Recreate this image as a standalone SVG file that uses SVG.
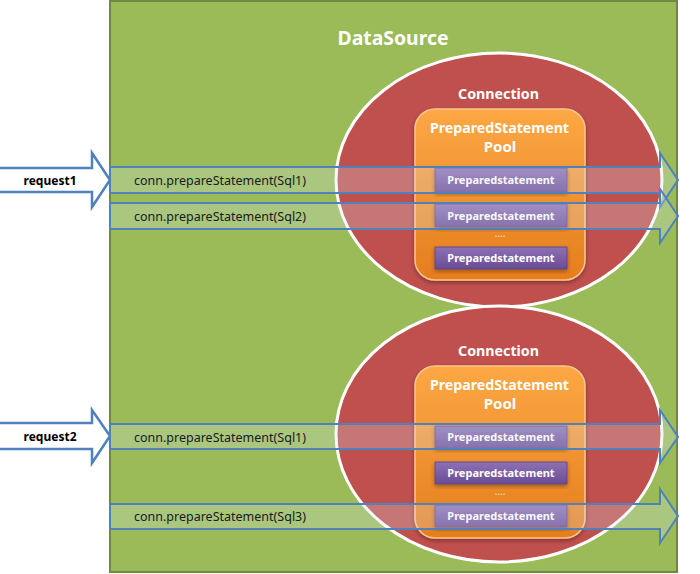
<svg xmlns="http://www.w3.org/2000/svg" width="700" height="574" viewBox="0 0 700 574">
<defs>
<linearGradient id="gOrange" x1="0" y1="0" x2="0" y2="1">
<stop offset="0" stop-color="#fca845"/>
<stop offset="1" stop-color="#e57d1e"/>
</linearGradient>
<linearGradient id="gPurple" x1="0" y1="0" x2="0" y2="1">
<stop offset="0" stop-color="#8d71b4"/>
<stop offset="1" stop-color="#6a4c96"/>
</linearGradient>
<filter id="shadow" x="-10%" y="-10%" width="120%" height="130%">
<feDropShadow dx="0" dy="2" stdDeviation="2" flood-color="#000" flood-opacity="0.35"/>
</filter>
</defs>
<style>
.ds{fill:#9bbb59;stroke:#71893f;stroke-width:2}
.conn{fill:#c0504d;stroke:#ffffff;stroke-width:3}
.pool{fill:url(#gOrange);stroke:#fbc58e;stroke-width:1.5;filter:url(#shadow)}
.ps{fill:url(#gPurple);stroke:#5c4386;stroke-width:0.8;filter:url(#shadow)}
.t{font-family:"Noto Sans","Open Sans","DejaVu Sans",sans-serif}
.w{fill:#ffffff;font-weight:bold}
.pst{font-size:11px;text-anchor:middle}
.arr{fill:#dce6f2;fill-opacity:0.25;stroke:#4f81bd;stroke-width:2}
.req{fill:#ffffff;stroke:#4f81bd;stroke-width:2.5}
.ct{font-size:13px;fill:#1a1a1a}
.rt{font-size:13px;font-weight:bold;fill:#000;text-anchor:middle}
.dots{font-size:10px;fill:#f7e0c0;text-anchor:middle}
</style>
<g id="datasource">
<rect class="ds" x="110" y="1" width="567" height="571"/>
<text class="t w" x="393" y="45" font-size="19" text-anchor="middle" textLength="111" lengthAdjust="spacingAndGlyphs">DataSource</text>
</g>
<g id="connection1">
<ellipse class="conn" cx="499" cy="180" rx="163" ry="127"/>
<text class="t w" x="498.5" y="99" font-size="14.5" text-anchor="middle" textLength="81" lengthAdjust="spacingAndGlyphs">Connection</text>
</g>
<g id="pool1">
<rect class="pool" x="415" y="109" width="170" height="171" rx="20"/>
<text class="t w" x="499.5" y="133" font-size="15" text-anchor="middle" textLength="139" lengthAdjust="spacingAndGlyphs">PreparedStatement</text>
<text class="t w" x="500" y="152" font-size="15" text-anchor="middle">Pool</text>
</g>
<g id="ps1a"><rect class="ps" x="435" y="168" width="132" height="24"/><text class="t w pst" x="501" y="184">Preparedstatement</text></g>
<g id="ps1b"><rect class="ps" x="435" y="204" width="132" height="23"/><text class="t w pst" x="501" y="220">Preparedstatement</text></g>
<text class="t dots" x="500" y="237">....</text>
<g id="ps1c"><rect class="ps" x="435" y="247" width="132" height="22"/><text class="t w pst" x="501" y="262">Preparedstatement</text></g>
<g id="connection2">
<ellipse class="conn" cx="499" cy="434" rx="163" ry="128"/>
<text class="t w" x="498.5" y="356" font-size="14.5" text-anchor="middle" textLength="81" lengthAdjust="spacingAndGlyphs">Connection</text>
</g>
<g id="pool2">
<rect class="pool" x="415" y="366" width="170" height="172" rx="20"/>
<text class="t w" x="499.5" y="390" font-size="15" text-anchor="middle" textLength="139" lengthAdjust="spacingAndGlyphs">PreparedStatement</text>
<text class="t w" x="500" y="409" font-size="15" text-anchor="middle">Pool</text>
</g>
<g id="ps2a"><rect class="ps" x="435" y="426" width="132" height="22"/><text class="t w pst" x="501" y="441">Preparedstatement</text></g>
<g id="ps2b"><rect class="ps" x="435" y="462" width="132" height="22"/><text class="t w pst" x="501" y="477">Preparedstatement</text></g>
<text class="t dots" x="500" y="495">....</text>
<g id="ps2c"><rect class="ps" x="435" y="505" width="132" height="22"/><text class="t w pst" x="501" y="520">Preparedstatement</text></g>
<g id="request1">
<path class="req" d="M-2,168 H92 V153 L110,180 L92,207 V192 H-2 Z"/>
<text class="t rt" x="50" y="185" textLength="53" lengthAdjust="spacingAndGlyphs">request1</text>
</g>
<g id="request2">
<path class="req" d="M-2,423 H92 V410 L110,436 L92,463 V449 H-2 Z"/>
<text class="t rt" x="50" y="441" textLength="53" lengthAdjust="spacingAndGlyphs">request2</text>
</g>
<g id="connectors">
<path class="arr" d="M110,167 H660 V153 L678,180 L660,207 V193 H110 Z"/>
<path class="arr" d="M110,203 H660 V189 L678,216 L660,243 V229 H110 Z"/>
<path class="arr" d="M110,424 H660 V410 L678,437 L660,463 V449 H110 Z"/>
<path class="arr" d="M110,504 H660 V489 L678,516 L660,543 V529 H110 Z"/>
<text class="t ct" x="134" y="185" textLength="172" lengthAdjust="spacingAndGlyphs">conn.prepareStatement(Sql1)</text>
<text class="t ct" x="134" y="221" textLength="172" lengthAdjust="spacingAndGlyphs">conn.prepareStatement(Sql2)</text>
<text class="t ct" x="134" y="442" textLength="172" lengthAdjust="spacingAndGlyphs">conn.prepareStatement(Sql1)</text>
<text class="t ct" x="134" y="521" textLength="172" lengthAdjust="spacingAndGlyphs">conn.prepareStatement(Sql3)</text>
</g>
</svg>
